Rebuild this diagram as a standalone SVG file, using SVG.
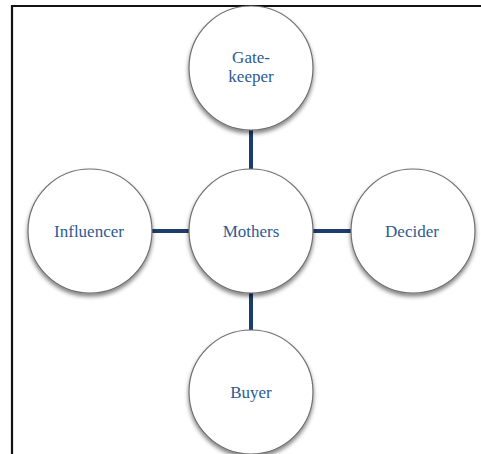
<svg xmlns="http://www.w3.org/2000/svg" width="481" height="454" viewBox="0 0 481 454">
<defs>
<filter id="sh" x="-20%" y="-20%" width="140%" height="150%">
<feGaussianBlur in="SourceAlpha" stdDeviation="2"/>
<feOffset dx="0" dy="3" result="b"/>
<feComponentTransfer><feFuncA type="linear" slope="0.5"/></feComponentTransfer>
<feMerge><feMergeNode/><feMergeNode in="SourceGraphic"/></feMerge>
</filter>
</defs>
<style>
.node circle{fill:#fff;stroke:#6e6e6e;stroke-width:1.2;filter:url(#sh)}
.node text{font-family:"Liberation Serif",serif;font-size:17px;fill:#2e5a93;text-anchor:middle}
.conn line{stroke:#1c3d6b;stroke-width:4}
</style>
<rect x="0" y="0" width="481" height="454" fill="#fff"/>
<path d="M12 454 V6 H481" fill="none" stroke="#111" stroke-width="2.2"/>
<g class="conn">
<line x1="251" y1="128" x2="251" y2="171"/>
<line x1="251" y1="291" x2="251" y2="333"/>
<line x1="150" y1="231" x2="192" y2="231"/>
<line x1="312" y1="231" x2="354" y2="231"/>
</g>
<g id="gatekeeper" class="node"><circle cx="251" cy="68" r="62"/><text x="251" y="63">Gate-</text><text x="251" y="82">keeper</text></g>
<g id="mothers" class="node"><circle cx="251" cy="231" r="62"/><text x="251" y="237">Mothers</text></g>
<g id="influencer" class="node"><circle cx="90" cy="231" r="62"/><text x="89" y="237">Influencer</text></g>
<g id="decider" class="node"><circle cx="413" cy="231" r="62"/><text x="412" y="237">Decider</text></g>
<g id="buyer" class="node"><circle cx="251" cy="392" r="62"/><text x="251" y="398">Buyer</text></g>
</svg>
